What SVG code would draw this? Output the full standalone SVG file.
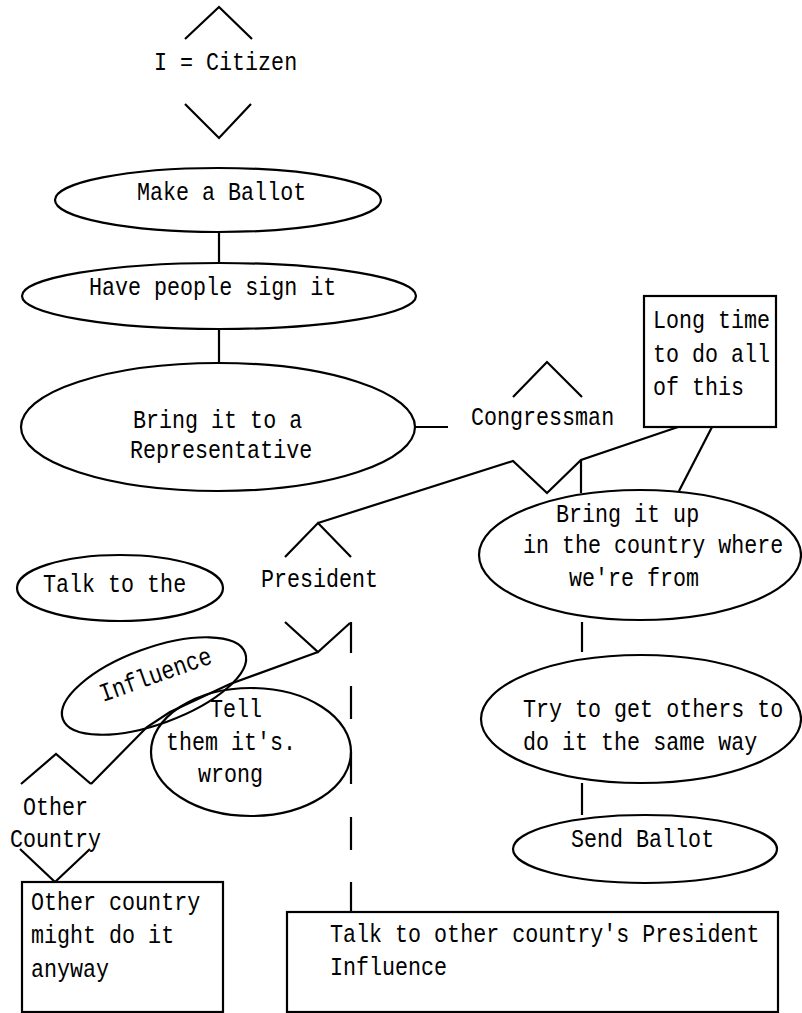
<svg xmlns="http://www.w3.org/2000/svg" width="802" height="1013" viewBox="0 0 802 1013">
<style>
  .t { font-family: "Liberation Mono", "DejaVu Sans Mono", monospace; font-size: 21.7px; fill: #000; }
  .s { fill: none; stroke: #000; stroke-width: 2.2; stroke-linejoin: miter; }
  .n { fill: #fff; stroke: #000; stroke-width: 2.2; }
</style>
<rect x="0" y="0" width="802" height="1013" fill="#fff"/>
<g id="connectors" class="s">
  <line x1="219" y1="232" x2="219" y2="263"/>
  <line x1="219" y1="330" x2="219" y2="363"/>
  <line x1="415" y1="427" x2="448" y2="427"/>
  <polyline points="678,427 581,460 547,493 513,461 318,523"/>
  <line x1="581" y1="460" x2="581" y2="493"/>
  <line x1="712" y1="427" x2="679" y2="491"/>
  <line x1="582" y1="622" x2="582" y2="652"/>
  <line x1="582" y1="783" x2="582" y2="815"/>
  <polyline points="318,652 230,684 170,712 147,727 91,784"/>
  <g id="dashed">
    <line x1="351" y1="622" x2="351" y2="653"/>
    <line x1="351" y1="686" x2="351" y2="719"/>
    <line x1="351" y1="752" x2="351" y2="784"/>
    <line x1="351" y1="817" x2="351" y2="850"/>
    <line x1="351" y1="882" x2="351" y2="912"/>
  </g>
</g>
<g id="citizen">
  <polyline class="s" points="185,39 219,7 252,39"/>
  <text class="t" x="154" y="70" transform="matrix(1 0 0 1.2 0 -14)">I = Citizen</text>
  <polyline class="s" points="185,104 219,138 251,104"/>
</g>
<g id="make-ballot">
  <ellipse class="n" cx="218" cy="200" rx="163" ry="32"/>
  <text class="t" x="137" y="200" transform="matrix(1 0 0 1.2 0 -40)">Make a Ballot</text>
</g>
<g id="have-people">
  <ellipse class="n" cx="219" cy="296" rx="197" ry="33"/>
  <text class="t" x="89" y="295" transform="matrix(1 0 0 1.2 0 -59)">Have people sign it</text>
</g>
<g id="bring-rep">
  <ellipse class="n" cx="218" cy="427" rx="197" ry="64"/>
  <text class="t" x="133" y="428" transform="matrix(1 0 0 1.2 0 -85.6)">Bring it to a</text>
  <text class="t" x="130" y="458" transform="matrix(1 0 0 1.2 0 -91.6)">Representative</text>
</g>
<g id="congressman">
  <polyline class="s" points="513,397 547,362 582,397"/>
  <text class="t" x="471" y="425" transform="matrix(1 0 0 1.2 0 -85)">Congressman</text>
</g>
<g id="long-time">
  <rect class="n" x="644" y="296" width="132" height="131"/>
  <text class="t" x="653" y="328" transform="matrix(1 0 0 1.2 0 -65.6)">Long time</text>
  <text class="t" x="653" y="362" transform="matrix(1 0 0 1.2 0 -72.4)">to do all</text>
  <text class="t" x="653" y="395" transform="matrix(1 0 0 1.2 0 -79)">of this</text>
</g>
<g id="bring-up">
  <ellipse class="n" cx="640" cy="555" rx="161" ry="65"/>
  <text class="t" x="556" y="522" transform="matrix(1 0 0 1.2 0 -104.4)">Bring it up</text>
  <text class="t" x="523" y="553" transform="matrix(1 0 0 1.2 0 -110.6)">in the country where</text>
  <text class="t" x="569" y="586" transform="matrix(1 0 0 1.2 0 -117.2)">we're from</text>
</g>
<g id="try-others">
  <ellipse class="n" cx="641" cy="719" rx="160" ry="64"/>
  <text class="t" x="523" y="717" transform="matrix(1 0 0 1.2 0 -143.4)">Try to get others to</text>
  <text class="t" x="523" y="750" transform="matrix(1 0 0 1.2 0 -150)">do it the same way</text>
</g>
<g id="send-ballot">
  <ellipse class="n" cx="645" cy="849" rx="132" ry="34"/>
  <text class="t" x="571" y="847" transform="matrix(1 0 0 1.2 0 -169.4)">Send Ballot</text>
</g>
<g id="talk-to-the">
  <ellipse class="n" cx="120" cy="588" rx="103" ry="33"/>
  <text class="t" x="43" y="592" transform="matrix(1 0 0 1.2 0 -118.4)">Talk to the</text>
</g>
<g id="president">
  <polyline class="s" points="285,557 318,523 351,557"/>
  <text class="t" x="261" y="587" transform="matrix(1 0 0 1.2 0 -117.4)">President</text>
  <polyline class="s" points="285,622 318,652 350,623"/>
</g>
<g id="influence">
  <ellipse class="s" cx="154" cy="686" rx="97" ry="38" transform="rotate(-20 154 686)"/>
  <text class="t" x="103" y="702" transform="rotate(-19.5 103 702) matrix(1 0 0 1.2 0 -140.4)">Influence</text>
</g>
<g id="tell-wrong">
  <ellipse class="s" cx="251" cy="752" rx="100" ry="64"/>
  <text class="t" x="210" y="717" transform="matrix(1 0 0 1.2 0 -143.4)">Tell</text>
  <text class="t" x="166" y="750" transform="matrix(1 0 0 1.2 0 -150)">them it's.</text>
  <text class="t" x="198" y="782" transform="matrix(1 0 0 1.2 0 -156.4)">wrong</text>
</g>
<g id="other-country">
  <polyline class="s" points="21,784 56,754 91,784"/>
  <text class="t" x="23" y="815" transform="matrix(1 0 0 1.2 0 -163)">Other</text>
  <text class="t" x="10" y="847" transform="matrix(1 0 0 1.2 0 -169.4)">Country</text>
  <polyline class="s" points="20,849 55,882 90,849"/>
</g>
<g id="other-might">
  <rect class="n" x="22" y="882" width="201" height="130"/>
  <text class="t" x="31" y="910" transform="matrix(1 0 0 1.2 0 -182)">Other country</text>
  <text class="t" x="31" y="943" transform="matrix(1 0 0 1.2 0 -188.6)">might do it</text>
  <text class="t" x="31" y="977" transform="matrix(1 0 0 1.2 0 -195.4)">anyway</text>
</g>
<g id="talk-other-president">
  <rect class="n" x="287" y="912" width="491" height="100"/>
  <text class="t" x="330" y="942" transform="matrix(1 0 0 1.2 0 -188.4)">Talk to other country's President</text>
  <text class="t" x="330" y="975" transform="matrix(1 0 0 1.2 0 -195)">Influence</text>
</g>
</svg>
